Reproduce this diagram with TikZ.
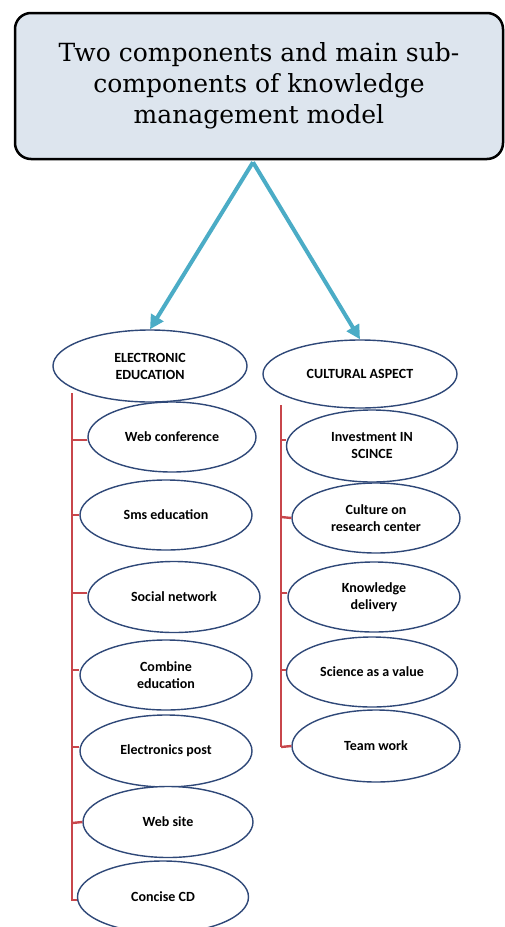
\documentclass[tikz,border=0pt]{standalone}
\usepackage{fontspec}
\setmainfont{DejaVu Serif}
\newfontfamily\labelfont{Carlito}
\usetikzlibrary{shapes.geometric,arrows.meta}
\definecolor{boxfill}{RGB}{221,229,238}
\definecolor{arrowcol}{RGB}{75,172,198}
\definecolor{ringcol}{RGB}{47,72,120}
\definecolor{linecol}{RGB}{200,70,75}
\begin{document}
\begin{tikzpicture}[x=1pt,y=1pt,
                    title node/.style={draw,rounded corners=16pt,line width=2.5pt,fill=boxfill,
                        minimum width=488pt,minimum height=146pt,align=center,font=\fontsize{25}{31}\selectfont},
                    main node/.style={ellipse,draw=ringcol,line width=1.4pt,fill=white,inner sep=0pt,
                        align=center,font=\labelfont\bfseries\fontsize{14}{17}\selectfont},
                    link/.style={-{Triangle[length=14pt,width=14pt]},arrowcol,line width=4pt},
                    branch/.style={linecol,line width=2.4pt}]

    \useasboundingbox (0,0) rectangle (505,-927);

    % Define title
    \node[title node] (T) at (259,-86) {Two components and main sub-\\components of knowledge\\management model};

    % Define components
    \node[main node,minimum width=194pt,minimum height=72pt] (E) at (150,-366) {ELECTRONIC\\EDUCATION};
    \node[main node,minimum width=194pt,minimum height=68pt] (C) at (360,-374) {CULTURAL ASPECT};

    \draw[link] (T.south) ++(-6,-2) -- (E.north);
    \draw[link] (T.south) ++(-6,-2) -- (C.north);

    % Define sub-components of electronic education
    \coordinate (Etop) at (72,-393);
    \coordinate (Ebot) at (72,-900);
    \draw[branch] (Etop) -- (Ebot) -- (78,-900);
    \node[main node,minimum width=168pt,minimum height=70pt] (E1) at (172,-437) {Web conference};
    \node[main node,minimum width=172pt,minimum height=70pt] (E2) at (166,-515) {Sms education};
    \node[main node,minimum width=172pt,minimum height=71pt] (E3) at (174,-597) {Social network};
    \node[main node,minimum width=172pt,minimum height=70pt] (E4) at (166,-675) {Combine\\education};
    \node[main node,minimum width=172pt,minimum height=72pt] (E5) at (166,-751) {Electronics post};
    \node[main node,minimum width=170pt,minimum height=71pt] (E6) at (168,-822) {Web site};
    \node[main node,minimum width=171pt,minimum height=72pt] (E7) at (163,-897) {Concise CD};

    \draw[branch] (72,-440) -- (E1.west |- 72,-440);
    \draw[branch] (72,-515) -- (E2.west);
    \draw[branch] (72,-593) -- (E3.west |- 72,-593);
    \draw[branch] (72,-670) -- (E4.west |- 72,-670);
    \draw[branch] (72,-747) -- (E5.west |- 72,-747);
    \draw[branch] (72,-823) -- (E6.west);

    % Define sub-components of cultural aspect
    \coordinate (Ctop) at (281,-405);
    \coordinate (Cbot) at (281,-747);
    \draw[branch] (Ctop) -- (Cbot);
    \node[main node,minimum width=171pt,minimum height=72pt] (C1) at (372,-446) {Investment IN\\SCINCE};
    \node[main node,minimum width=168pt,minimum height=70pt] (C2) at (376,-518) {Culture on\\research center};
    \node[main node,minimum width=172pt,minimum height=70pt] (C3) at (374,-597) {Knowledge\\delivery};
    \node[main node,minimum width=171pt,minimum height=70pt] (C4) at (372,-672) {Science as a value};
    \node[main node,minimum width=168pt,minimum height=72pt] (C5) at (376,-746) {Team work};

    \draw[branch] (281,-440) -- (C1.west |- 281,-440);
    \draw[branch] (281,-517) -- (C2.west);
    \draw[branch] (281,-593) -- (C3.west |- 281,-593);
    \draw[branch] (281,-670) -- (C4.west |- 281,-670);
    \draw[branch] (Cbot) -- (C5.west);

\end{tikzpicture}
\end{document}
